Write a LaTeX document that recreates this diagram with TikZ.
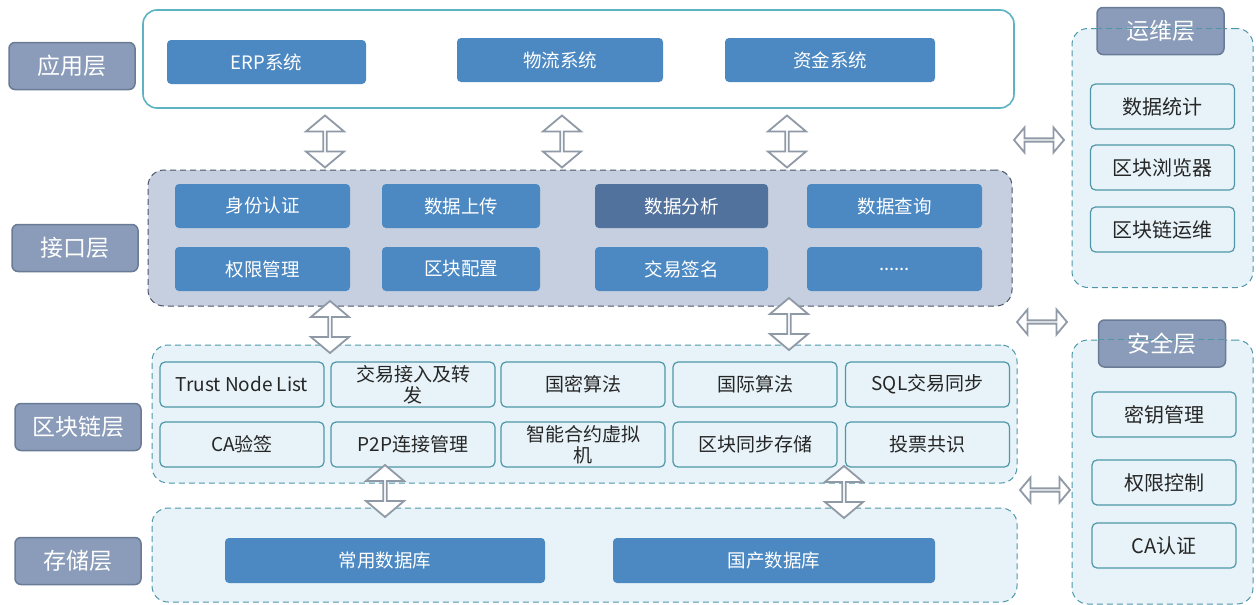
\documentclass[tikz,border=0pt]{standalone}
\usepackage{fontspec}
\setmainfont{Noto Sans CJK SC}
\usetikzlibrary{shapes.arrows}

\definecolor{labelfill}{HTML}{8A9CB9}
\definecolor{labeldraw}{HTML}{6A7B96}
\definecolor{sysblue}{HTML}{4C89C3}
\definecolor{sysdark}{HTML}{52729E}
\definecolor{apiback}{HTML}{C5CFDF}
\definecolor{apidash}{HTML}{4A5468}
\definecolor{appteal}{HTML}{5DB3C2}
\definecolor{paleback}{HTML}{E7F3F8}
\definecolor{tealdraw}{HTML}{4E97A9}
\definecolor{arrowgray}{HTML}{7D8898}

\tikzset{
  layerlabel/.style={draw=labeldraw, line width=1.5pt, fill=labelfill, rounded corners=6pt,
    text=white, font=\fontsize{23}{26}\selectfont, minimum width=126, minimum height=47, inner sep=0},
  sysbox/.style={fill=sysblue, rounded corners=4pt, text=white,
    font=\fontsize{18.5}{21}\selectfont, minimum height=44, inner sep=0},
  chainbox/.style={draw=tealdraw, line width=1.2pt, fill=paleback, rounded corners=5pt,
    text=black!85, font=\fontsize{19}{21}\selectfont, align=center,
    minimum width=164, minimum height=45, inner sep=0},
  sidebox/.style={chainbox, minimum width=144, font=\fontsize{20}{22}\selectfont},
  frame/.style={draw=tealdraw, line width=1pt, dashed, dash pattern=on 6pt off 4pt,
    fill=paleback, rounded corners=16pt, inner sep=0},
  vhollow/.style={double arrow, draw=arrowgray!85, line width=1.8pt, fill=white, inner sep=0,
    minimum height=52, minimum width=38, double arrow head extend=9pt,
    double arrow tip angle=100, shape border rotate=90},
  hhollow/.style={double arrow, draw=arrowgray!85, line width=1.8pt, fill=white, inner sep=0,
    minimum height=50, minimum width=25, double arrow head extend=6pt,
    double arrow tip angle=100}
}

\begin{document}
\begin{tikzpicture}[x=1pt, y=-1pt]
	\useasboundingbox[fill=white] (0,0) rectangle (1256,605);

	% application layer
	\node[draw=appteal, line width=1.6pt, fill=white, rounded corners=14pt,
	      minimum width=871, minimum height=98, inner sep=0] (app) at (578.5,59) {};
	\node[sysbox, minimum width=199] (erp) at (266.5,62) {ERP系统};
	\node[sysbox, minimum width=206] (wuliu) at (560,60) {物流系统};
	\node[sysbox, minimum width=210] (zijin) at (830,60) {资金系统};

	% interface layer
	\node[draw=apidash, line width=1pt, dashed, dash pattern=on 6pt off 4pt, fill=apiback,
	      rounded corners=16pt, minimum width=864, minimum height=136, inner sep=0] (api) at (580,238) {};
	\node[sysbox, minimum width=175] (auth) at (262.5,206) {身份认证};
	\node[sysbox, minimum width=158] (upload) at (461,206) {数据上传};
	\node[sysbox, minimum width=173, fill=sysdark] (analyse) at (681.5,206) {数据分析};
	\node[sysbox, minimum width=175] (query) at (894.5,206) {数据查询};
	\node[sysbox, minimum width=175] (perm) at (262.5,269) {权限管理};
	\node[sysbox, minimum width=158] (blkconf) at (461,269) {区块配置};
	\node[sysbox, minimum width=173] (txsign) at (681.5,269) {交易签名};
	\node[sysbox, minimum width=175] (more) at (894.5,269) {......};

	% blockchain layer
	\node[frame, minimum width=865, minimum height=138] (chain) at (584.5,414) {};
	\node[chainbox] (trust) at (242,384.5) {Trust Node List};
	\node[chainbox] (txin) at (413,384.5) {交易接入及转\\发};
	\node[chainbox] (gm) at (583,384.5) {国密算法};
	\node[chainbox] (intl) at (755,384.5) {国际算法};
	\node[chainbox] (sqlsync) at (927.5,384.5) {SQL交易同步};
	\node[chainbox] (caver) at (242,444.5) {CA验签};
	\node[chainbox] (ptp) at (413,444.5) {P2P连接管理};
	\node[chainbox] (vm) at (583,444.5) {智能合约虚拟\\机};
	\node[chainbox] (blksync) at (755,444.5) {区块同步存储};
	\node[chainbox] (vote) at (927.5,444.5) {投票共识};

	% storage layer
	\node[frame, minimum width=865, minimum height=94] (store) at (584.5,555) {};
	\node[sysbox, minimum width=320, minimum height=45] (commondb) at (385,560.5) {常用数据库};
	\node[sysbox, minimum width=322, minimum height=45] (localdb) at (774,560.5) {国产数据库};

	% layer labels
	\node[layerlabel] (lapp) at (72,66) {应用层};
	\node[layerlabel] (lapi) at (75,248) {接口层};
	\node[layerlabel] (lchain) at (78,427) {区块链层};
	\node[layerlabel] (lstore) at (78,561) {存储层};

	% operation layer
	\node[frame, minimum width=181, minimum height=259] (ops) at (1162.5,158) {};
	\node[layerlabel, minimum width=127] (opstitle) at (1160.5,31) {运维层};
	\draw[draw=tealdraw, line width=1pt, dash pattern=on 6pt off 4pt]
		(opstitle.west |- ops.north) -- (opstitle.east |- ops.north);
	\node[sidebox] (stats) at (1162.5,106.5) {数据统计};
	\node[sidebox] (browser) at (1162.5,167.5) {区块浏览器};
	\node[sidebox] (opsnode) at (1162.5,229.5) {区块链运维};

	% security layer
	\node[frame, minimum width=181, minimum height=264] (sec) at (1162.5,472) {};
	\node[layerlabel, minimum width=127] (sectitle) at (1162,343.5) {安全层};
	\draw[draw=tealdraw, line width=1pt, dash pattern=on 6pt off 4pt]
		(sectitle.west |- sec.north) -- (sectitle.east |- sec.north);
	\node[sidebox] (keys) at (1164,414.5) {密钥管理};
	\node[sidebox] (access) at (1164,482.5) {权限控制};
	\node[sidebox] (cacert) at (1164,545.5) {CA认证};

	% hollow arrows
	\node[vhollow] (a1) at (325,141.5) {};
	\node[vhollow] (a2) at (562,141.5) {};
	\node[vhollow] (a3) at (787,141.5) {};
	\node[vhollow] (a4) at (330,327) {};
	\node[vhollow] (a5) at (789,324) {};
	\node[vhollow] (a6) at (385,491) {};
	\node[vhollow] (a7) at (844,492) {};
	\node[hhollow] (h1) at (1039,140) {};
	\node[hhollow] (h2) at (1042,322) {};
	\node[hhollow] (h3) at (1045,490) {};
\end{tikzpicture}
\end{document}
